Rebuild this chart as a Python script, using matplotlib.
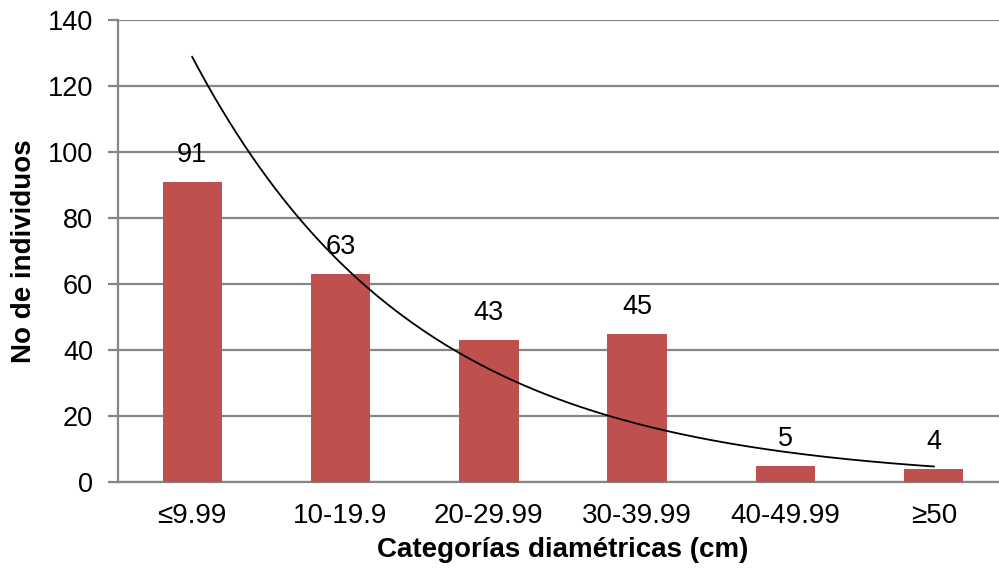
import numpy as np
import matplotlib
matplotlib.use("Agg")
import matplotlib.pyplot as plt

plt.rcParams['font.family'] = ['Liberation Sans', 'DejaVu Sans']

categories = ["≤9.99", "10-19.9", "20-29.99", "30-39.99", "40-49.99", "≥50"]
counts = [91, 63, 43, 45, 5, 4]

bar_color = "#C0504D"
grid_color = "#868686"

fig = plt.figure(figsize=(9.99, 5.74), dpi=100)
# the plot area runs slightly past the right edge of the canvas
ax = fig.add_axes([118 / 999, 1 - 482 / 574, 890 / 999, 462 / 574])

x = np.arange(len(categories))
ax.bar(x, counts, width=0.4, color=bar_color, zorder=3)

for xi, v in zip(x, counts):
    ax.annotate(str(v), (xi, v), xytext=(0, 10), textcoords="offset points",
                ha="center", va="bottom", fontsize=19.5, color="black", zorder=5)

# exponential trend line fitted to the counts
xs = x + 1
b, a = np.polyfit(xs, np.log(counts), 1)
xt = np.linspace(1, len(categories), 200)
ax.plot(xt - 1, np.exp(a + b * xt), color="black", lw=1.3, zorder=4)

ax.set_xlim(-0.5, len(categories) - 0.5)
ax.set_ylim(0, 140)
ax.set_yticks(np.arange(0, 141, 20))
ax.set_xticks(x)
ax.set_xticklabels(categories)

ax.grid(axis="y", color=grid_color, lw=1.6, zorder=0)
ax.set_axisbelow(True)
for side in ("top", "right"):
    ax.spines[side].set_visible(False)
ax.spines["left"].set_color(grid_color)
ax.spines["left"].set_linewidth(1.6)
ax.spines["bottom"].set_color(grid_color)
ax.spines["bottom"].set_linewidth(1.6)

ax.tick_params(axis="y", length=7, width=1.6, color=grid_color, labelsize=19.5, pad=11)
ax.tick_params(axis="x", length=0, labelsize=20, pad=15)

ax.set_xlabel("Categorías diamétricas (cm)", fontsize=20, fontweight="bold", labelpad=6)
ax.set_ylabel("No de individuos", fontsize=20, fontweight="bold", labelpad=8)

fig.savefig("out.png", dpi=100)
